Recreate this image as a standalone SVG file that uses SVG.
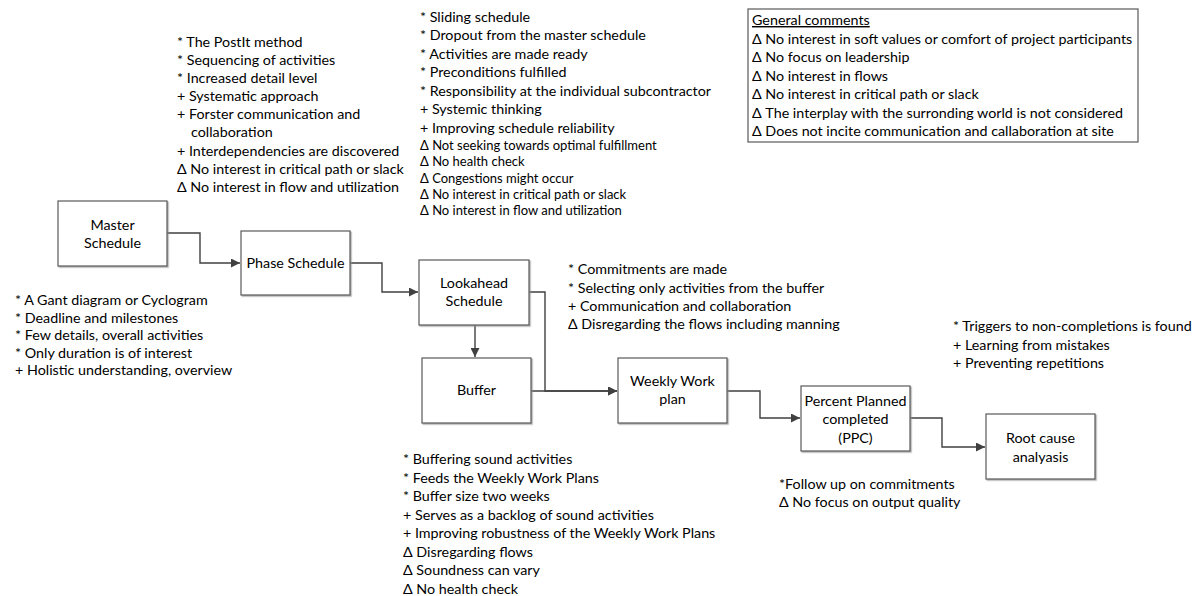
<svg xmlns="http://www.w3.org/2000/svg" width="1200" height="596" viewBox="0 0 1200 596">
<style>
  text { font-family: Lato, "Liberation Sans", sans-serif; font-size: 14.3px; fill: #000; }
  .s { font-size: 13px; }
  .c { text-anchor: middle; }
  .box { fill: #fff; stroke: #595959; stroke-width: 1.2; filter: url(#sh); }
  .conn { fill: none; stroke: #404040; stroke-width: 1.4; }
</style>
<defs>
  <marker id="arr" viewBox="0 0 10 10" refX="10" refY="5" markerWidth="9" markerHeight="9" markerUnits="userSpaceOnUse" orient="auto">
    <path d="M0,0 L10,5 L0,10 z" fill="#404040"/>
  </marker>
  <filter id="sh" x="-10%" y="-10%" width="120%" height="120%">
    <feDropShadow dx="1.2" dy="1.2" stdDeviation="0.6" flood-color="#8c8c8c" flood-opacity="0.7"/>
  </filter>
</defs>
<rect width="1200" height="596" fill="#fff"/>

<g id="connectors">
  <path class="conn" d="M167,233 H200 V263 H240" marker-end="url(#arr)"/>
  <path class="conn" d="M350,263 H382 V292 H418" marker-end="url(#arr)"/>
  <path class="conn" d="M475,325 V357" marker-end="url(#arr)"/>
  <path class="conn" d="M529,292 H545 V391 H617" marker-end="url(#arr)"/>
  <path class="conn" d="M531,391 H617" marker-end="url(#arr)"/>
  <path class="conn" d="M727,391 H760 V418 H800" marker-end="url(#arr)"/>
  <path class="conn" d="M910,418 H942 V447 H985" marker-end="url(#arr)"/>
</g>

<g id="master">
  <rect class="box" x="58" y="201" width="109" height="65"/>
  <text class="c" x="112.5" y="230">Master</text>
  <text class="c" x="112.5" y="248">Schedule</text>
</g>
<g id="phase">
  <rect class="box" x="241" y="231" width="109" height="64"/>
  <text class="c" x="295.5" y="268">Phase Schedule</text>
</g>
<g id="lookahead">
  <rect class="box" x="419" y="260" width="110" height="65"/>
  <text class="c" x="474" y="288">Lookahead</text>
  <text class="c" x="474" y="306">Schedule</text>
</g>
<g id="buffer">
  <rect class="box" x="422" y="358" width="109" height="65"/>
  <text class="c" x="476.5" y="395">Buffer</text>
</g>
<g id="weekly">
  <rect class="box" x="618" y="358" width="109" height="65"/>
  <text class="c" x="672.5" y="386">Weekly Work</text>
  <text class="c" x="672.5" y="404">plan</text>
</g>
<g id="ppc">
  <rect class="box" x="801" y="386" width="109" height="65"/>
  <text class="c" x="855.5" y="406">Percent Planned</text>
  <text class="c" x="855.5" y="424">completed</text>
  <text class="c" x="855.5" y="443">(PPC)</text>
</g>
<g id="rootcause">
  <rect class="box" x="986" y="414" width="109" height="65"/>
  <text class="c" x="1040.5" y="443">Root cause</text>
  <text class="c" x="1040.5" y="462">analyasis</text>
</g>

<g id="general-comments">
  <rect x="748" y="9" width="390" height="133" fill="#fff" stroke="#595959" stroke-width="1.2"/>
  <text x="752" y="25" text-decoration="underline">General comments</text>
  <text x="752" y="44">Δ No interest in soft values or comfort of project participants</text>
  <text x="752" y="62">Δ No focus on leadership</text>
  <text x="752" y="81">Δ No interest in flows</text>
  <text x="752" y="99">Δ No interest in critical path or slack</text>
  <text x="752" y="118">Δ The interplay with the surronding world is not considered</text>
  <text x="752" y="136">Δ Does not incite communication and callaboration at site</text>
</g>

<g id="notes-phase">
  <text x="177" y="47">* The PostIt method</text>
  <text x="177" y="65">* Sequencing of activities</text>
  <text x="177" y="83">* Increased detail level</text>
  <text x="177" y="101">+ Systematic approach</text>
  <text x="177" y="119">+ Forster communication and</text>
  <text x="191" y="137">collaboration</text>
  <text x="177" y="156">+ Interdependencies are discovered</text>
  <text x="177" y="174">Δ No interest in critical path or slack</text>
  <text x="177" y="192">Δ No interest in flow and utilization</text>
</g>

<g id="notes-lookahead">
  <text x="420" y="22">* Sliding schedule</text>
  <text x="420" y="40">* Dropout from the master schedule</text>
  <text x="420" y="59">* Activities are made ready</text>
  <text x="420" y="77">* Preconditions fulfilled</text>
  <text x="420" y="96">* Responsibility at the individual subcontractor</text>
  <text x="420" y="114">+ Systemic thinking</text>
  <text x="420" y="133">+ Improving schedule reliability</text>
  <text class="s" x="420" y="150">Δ Not seeking towards optimal fulfillment</text>
  <text class="s" x="420" y="166">Δ No health check</text>
  <text class="s" x="420" y="183">Δ Congestions might occur</text>
  <text class="s" x="420" y="199">Δ No interest in critical path or slack</text>
  <text class="s" x="420" y="215">Δ No interest in flow and utilization</text>
</g>

<g id="notes-master">
  <text x="15" y="305">* A Gant diagram or Cyclogram</text>
  <text x="15" y="322.5">* Deadline and milestones</text>
  <text x="15" y="340">* Few details, overall activities</text>
  <text x="15" y="357.5">* Only duration is of interest</text>
  <text x="15" y="375">+ Holistic understanding, overview</text>
</g>

<g id="notes-weekly">
  <text x="568" y="274">* Commitments are made</text>
  <text x="568" y="293">* Selecting only activities from the buffer</text>
  <text x="568" y="311">+ Communication and collaboration</text>
  <text x="568" y="329">Δ Disregarding the flows including manning</text>
</g>

<g id="notes-root">
  <text x="953" y="331">* Triggers to non-completions is found</text>
  <text x="953" y="350">+ Learning from mistakes</text>
  <text x="953" y="368">+ Preventing repetitions</text>
</g>

<g id="notes-buffer">
  <text x="403" y="464">* Buffering sound activities</text>
  <text x="403" y="482.5">* Feeds the Weekly Work Plans</text>
  <text x="403" y="501">* Buffer size two weeks</text>
  <text x="403" y="519.5">+ Serves as a backlog of sound activities</text>
  <text x="403" y="538">+ Improving robustness of the Weekly Work Plans</text>
  <text x="403" y="556.5">Δ Disregarding flows</text>
  <text x="403" y="575">Δ Soundness can vary</text>
  <text x="403" y="593.5">Δ No health check</text>
</g>

<g id="notes-ppc">
  <text x="779" y="489">*Follow up on commitments</text>
  <text x="779" y="507">Δ No focus on output quality</text>
</g>
</svg>
